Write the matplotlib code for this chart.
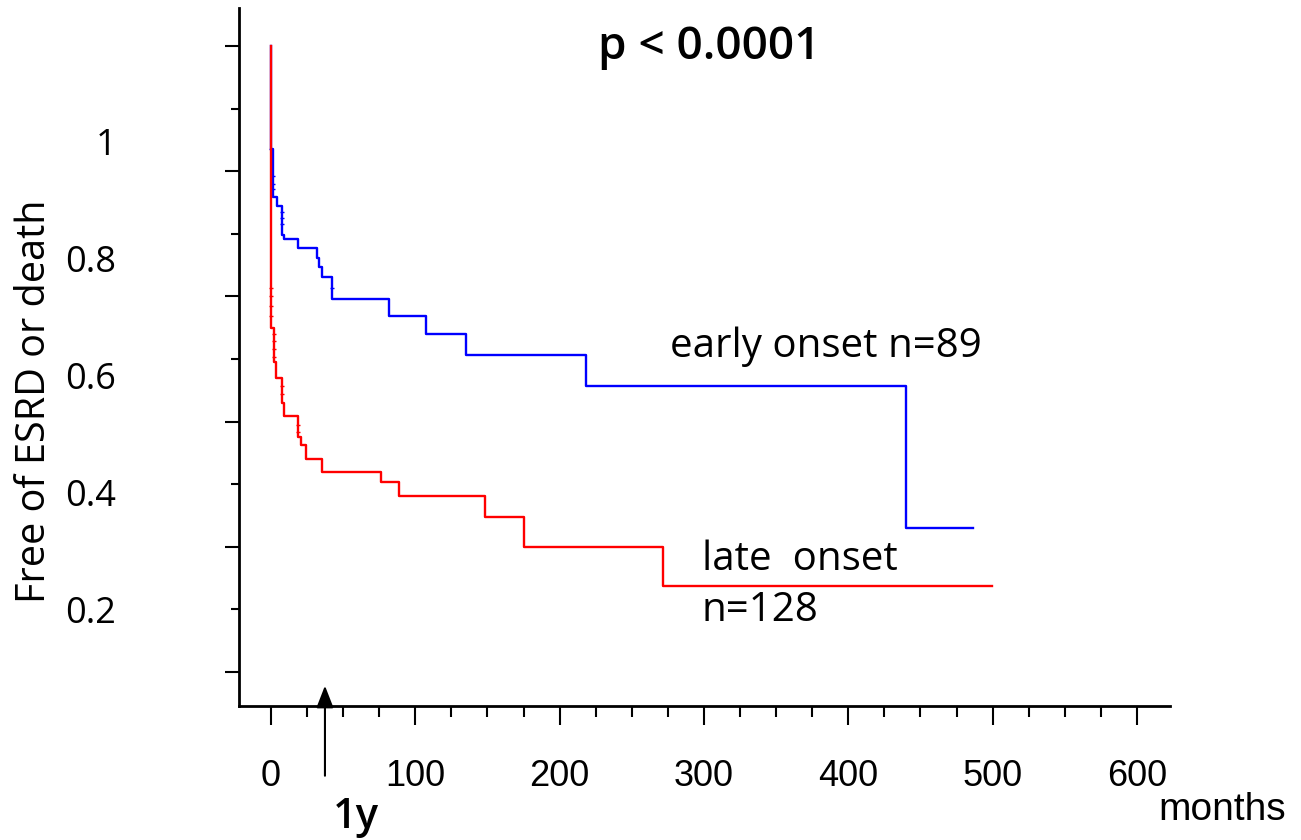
import matplotlib
matplotlib.use("Agg")
import matplotlib.pyplot as plt
from matplotlib.ticker import MultipleLocator

# step curves: time of each drop (months) and survival after the drop
blue_t = [0, 0, 1.6, 3.9, 7.4, 9.2, 18.5, 31.7, 33.3, 35.1, 42.5, 81.8, 107.4, 135.1, 218.3, 440.0, 486.7]
blue_s = [1.0, 0.835, 0.758, 0.745, 0.698, 0.691, 0.677, 0.661, 0.647, 0.631, 0.596, 0.569, 0.540, 0.507, 0.457, 0.230, 0.230]

red_t = [0, 0, 2.1, 3.5, 7.4, 9.2, 18.9, 20.6, 24.3, 35.1, 76.0, 88.9, 148.1, 175.5, 271.9, 499.4]
red_s = [1.0, 0.550, 0.495, 0.469, 0.430, 0.409, 0.375, 0.363, 0.340, 0.320, 0.303, 0.281, 0.248, 0.200, 0.137, 0.137]

# censoring marks
blue_cens_t = [0, 1.6, 1.6, 1.6, 7.4, 7.4, 7.4, 42.5]
blue_cens_s = [0.835, 0.793, 0.780, 0.772, 0.735, 0.725, 0.716, 0.613]
red_cens_t = [0, 0, 0, 0, 2.1, 2.1, 2.1, 2.1, 7.4, 7.4, 18.9, 18.9]
red_cens_s = [0.614, 0.601, 0.585, 0.568, 0.540, 0.529, 0.516, 0.503, 0.457, 0.444, 0.395, 0.383]

ytick_text = ["1", "0.8", "0.6", "0.4", "0.2"]
ytick_vals = [1.0, 0.8, 0.6, 0.4, 0.2]
xtick_vals = [0, 100, 200, 300, 400, 500, 600]

W, H = 1301, 840
fig = plt.figure(figsize=(W / 100, H / 100), dpi=100)
ax = fig.add_axes([238.5 / W, 1 - 706 / H, (1170 - 238.5) / W, (706 - 8) / H])

ax.step(blue_t, blue_s, where="post", color="#0000ff", lw=1.7, zorder=3)
ax.step(red_t, red_s, where="post", color="#ff0000", lw=1.7, zorder=4)
ax.plot(blue_cens_t, blue_cens_s, ls="none", marker="_", ms=3, mew=1, color="#0000ff", zorder=3)
ax.plot(red_cens_t, red_cens_s, ls="none", marker="_", ms=3, mew=1, color="#ff0000", zorder=4)

ax.set_xlim(-22.5, 622.9)
ax.set_ylim(-0.0543, 1.0607)
for s in ["top", "right"]:
    ax.spines[s].set_visible(False)
for s in ["left", "bottom"]:
    ax.spines[s].set_linewidth(2)

ax.xaxis.set_major_locator(MultipleLocator(100))
ax.xaxis.set_minor_locator(MultipleLocator(25))
ax.yaxis.set_major_locator(MultipleLocator(0.2))
ax.yaxis.set_minor_locator(MultipleLocator(0.1))
ax.tick_params(axis="x", which="major", length=14, width=1.5, pad=24)
ax.tick_params(axis="x", which="minor", length=8, width=1.5)
ax.tick_params(axis="y", which="major", length=10, width=1.5)
ax.tick_params(axis="y", which="minor", length=6, width=1.5)
ax.set_xticks(xtick_vals)
ax.set_xticklabels([str(v) for v in xtick_vals], fontfamily="Liberation Sans", fontsize=26)
ax.set_yticklabels([])

# tick labels of the y axis sit on their own scale
ax2 = ax.twinx()
ax2.set_ylim(0.0354, 1.2279)
for s in ax2.spines.values():
    s.set_visible(False)
ax2.yaxis.tick_left()
ax2.set_yticks(ytick_vals)
ax2.set_yticklabels(ytick_text, fontfamily="Open Sans", fontsize=26)
ax2.tick_params(axis="y", length=0, pad=88)

fig.text(35 / W, 1 - 401 / H, "Free of ESRD or death", rotation=90, ha="center", va="center",
         fontfamily="Open Sans", fontsize=28.5)

ax.text(276.4, 0.503, "early onset n=89", fontfamily="Open Sans", fontsize=29, va="baseline")
ax.text(298.4, 0.163, "late  onset", fontfamily="Open Sans", fontsize=29, va="baseline")
ax.text(298.4, 0.082, "n=128", fontfamily="Open Sans", fontsize=29, va="baseline")
ax.text(226.6, 0.979, "p < 0.0001", fontfamily="Open Sans", fontsize=33, fontweight="semibold", va="baseline")

ax.annotate("", xy=(37.4, -0.0219), xytext=(37.4, -0.1657),
            arrowprops=dict(arrowstyle="-|>,head_length=0.9,head_width=0.35", mutation_scale=15,
                            color="black", lw=1.5, shrinkA=0, shrinkB=0),
            annotation_clip=False)
fig.text(333 / W, 1 - 828 / H, "1y", fontfamily="Open Sans", fontsize=30, fontweight="semibold", va="baseline")
fig.text(1158 / W, 1 - 820 / H, "months", fontfamily="Liberation Sans", fontsize=28, va="baseline")

fig.savefig("out.png", dpi=100)
